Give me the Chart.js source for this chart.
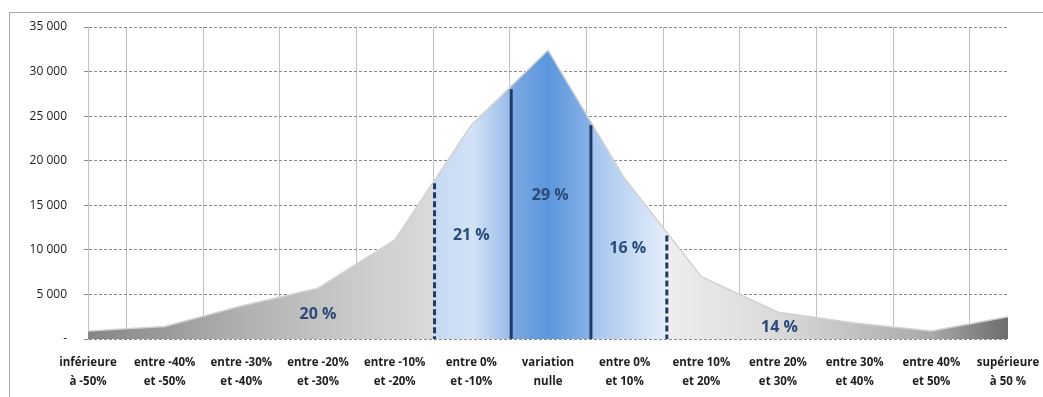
<!DOCTYPE html>
<html>
<head>
<meta charset="utf-8">
<script src="https://cdn.jsdelivr.net/npm/chart.js@4.4.1/dist/chart.umd.min.js"></script>
<style>
  html, body { margin: 0; padding: 0; background: #ffffff; }
  #wrap { position: relative; width: 1043px; height: 397px; overflow: hidden; }
  #frame { position: absolute; left: 9px; top: 12px; right: -5px; bottom: -5px; border-top: 1px solid #a8a8a8; border-left: 1px solid #a8a8a8; pointer-events: none; }
  canvas { position: absolute; left: 0; top: 0; }
</style>
</head>
<body>
<div id="wrap">
  <canvas id="c" width="1043" height="397"></canvas>
  <div id="frame"></div>
</div>
<script>
// ---- data ----
const categories = [
  ['inférieure', 'à -50%'],
  ['entre -40%', 'et -50%'],
  ['entre -30%', 'et -40%'],
  ['entre -20%', 'et -30%'],
  ['entre -10%', 'et -20%'],
  ['entre 0%', 'et -10%'],
  ['variation', 'nulle'],
  ['entre 0%', 'et 10%'],
  ['entre 10%', 'et 20%'],
  ['entre 20%', 'et 30%'],
  ['entre 30%', 'et 40%'],
  ['entre 40%', 'et 50%'],
  ['supérieure', 'à 50 %']
];
const values = [900, 1400, 3700, 5700, 11100, 24000, 32400, 18000, 7000, 3000, 1800, 900, 2500];
const yTicks = [0, 5000, 10000, 15000, 20000, 25000, 30000, 35000];
const yTickLabels = ['-', '5 000', '10 000', '15 000', '20 000', '25 000', '30 000', '35 000'];
const pctLabels = ['20 %', '21 %', '29 %', '16 %', '14 %'];
const pctIndex = [3, 5, 6.03, 7.04, 9.02];
const pctValue = [2800, 11650, 16150, 10200, 1350];
const dividerPos = [4.52, 5.52, 6.56, 7.55];
const dividerDashed = [true, false, false, true];

// ---- helpers ----
function valueAt(pos) {
  const i = Math.floor(pos), f = pos - i;
  if (i >= values.length - 1) return values[values.length - 1];
  return values[i] + (values[i + 1] - values[i]) * f;
}

function makeFill(context) {
  const chart = context.chart;
  const area = chart.chartArea;
  const xs = chart.scales.x;
  if (!area || !xs) return '#cccccc';
  const L = area.left, W = area.right - area.left;
  const fr = (px) => Math.min(1, Math.max(0, (px - L) / W));
  const p = (v) => fr(xs.getPixelForValue(v));
  const g = chart.ctx.createLinearGradient(area.left, 0, area.right, 0);
  const d0 = p(dividerPos[0]), d1 = p(dividerPos[1]), d2 = p(dividerPos[2]), d3 = p(dividerPos[3]);
  const mid = p(6);
  const e = 0.0005;
  // left grey
  g.addColorStop(0, '#858585');
  g.addColorStop(p(2), '#b0b0b0');
  g.addColorStop(p(3.5), '#cbcbcb');
  g.addColorStop(d0 - e, '#dadada');
  // blue
  g.addColorStop(d0, '#c6d9f2');
  g.addColorStop((d0 + d1) / 2, '#d3e2f6');
  g.addColorStop(d1 - e, '#98bbea');
  g.addColorStop(d1, '#7ea9e3');
  g.addColorStop(mid, '#5c96dd');
  g.addColorStop(d2 - e, '#88b2e8');
  g.addColorStop(d2, '#a4c4ee');
  g.addColorStop(d3 - e, '#e4eefb');
  // right grey
  g.addColorStop(d3, '#eeeeee');
  g.addColorStop(p(9), '#dadada');
  g.addColorStop(p(11), '#a9a9a9');
  g.addColorStop(1, '#6c6c6c');
  return g;
}

const overlayPlugin = {
  id: 'overlay',
  afterDatasetsDraw(chart) {
    const ctx = chart.ctx;
    const xs = chart.scales.x, ys = chart.scales.y;
    ctx.save();
    ctx.strokeStyle = '#1f3c68';
    ctx.lineWidth = 3;
    dividerPos.forEach((pos, i) => {
      const x = xs.getPixelForValue(pos);
      const yTop = ys.getPixelForValue(valueAt(pos)) + 3;
      const yBot = ys.getPixelForValue(0);
      ctx.setLineDash(dividerDashed[i] ? [6, 3] : []);
      ctx.beginPath();
      ctx.moveTo(x, yTop);
      ctx.lineTo(x, yBot);
      ctx.stroke();
    });
    ctx.setLineDash([]);
    ctx.fillStyle = '#2b4a78';
    ctx.font = 'bold 16px "Open Sans", sans-serif';
    ctx.textAlign = 'center';
    ctx.textBaseline = 'middle';
    pctLabels.forEach((t, i) => {
      ctx.fillText(t, xs.getPixelForValue(pctIndex[i]), ys.getPixelForValue(pctValue[i]));
    });
    ctx.restore();
  }
};

new Chart(document.getElementById('c'), {
  type: 'line',
  data: {
    labels: categories,
    datasets: [{
      data: values,
      fill: 'origin',
      backgroundColor: makeFill,
      borderColor: '#d2d2d2',
      borderWidth: 1.5,
      pointRadius: 0,
      tension: 0
    }]
  },
  options: {
    responsive: false,
    devicePixelRatio: 1,
    animation: false,
    events: [],
    layout: { padding: { left: 28, top: 27, right: 35, bottom: 10 } },
    plugins: { legend: { display: false }, tooltip: { enabled: false } },
    scales: {
      x: {
        offset: false,
        grid: { offset: true, color: '#c2c2c2', lineWidth: 1, drawTicks: false },
        border: { display: false },
        ticks: {
          padding: 14,
          maxRotation: 0,
          autoSkip: false,
          color: '#1e1e1e',
          font: { family: '"Open Sans", sans-serif', size: 11.5, weight: 'bold', lineHeight: 1.65 }
        },
        afterFit(s) { s.height = 48; s.paddingLeft = 0; s.paddingRight = 0; }
      },
      y: {
        min: 0,
        max: 35000,
        afterBuildTicks(s) { s.ticks = yTicks.map(v => ({ value: v })); },
        grid: { color: '#8a8a8a', lineWidth: 1, tickLength: 4, tickColor: '#8a8a8a' },
        border: { display: true, color: '#c2c2c2', dash: [3, 2] },
        ticks: {
          padding: 17,
          color: '#1a1a1a',
          font: { family: '"Open Sans", sans-serif', size: 12 },
          callback(v) { const i = yTicks.indexOf(v); return i >= 0 ? yTickLabels[i] : ''; }
        },
        afterFit(s) { s.width = 60; s.paddingTop = 0; s.paddingBottom = 0; }
      }
    }
  },
  plugins: [overlayPlugin]
});
</script>
</body>
</html>
